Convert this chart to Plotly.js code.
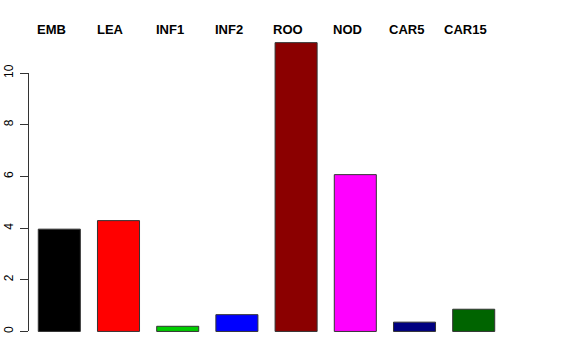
<!DOCTYPE html>
<html>
<head>
<meta charset="utf-8">
<script src="https://cdn.plot.ly/plotly-3.0.1.min.js"></script>
<style>html,body{margin:0;padding:0;background:#fff;}#chart{width:576px;height:360px;}</style>
</head>
<body>
<div id="chart"></div>
<script>
var categories = ["EMB", "LEA", "INF1", "INF2", "ROO", "NOD", "CAR5", "CAR15"];
var values = [3.96, 4.29, 0.20, 0.65, 11.18, 6.07, 0.36, 0.86];
var barColors = ["#000000", "#FF0000", "#00CD00", "#0000FF", "#8B0000", "#FF00FF", "#000080", "#006400"];
var yTicks = [0, 2, 4, 6, 8, 10];

var idx = categories.map(function (c, i) { return i; });

var bars = {
  type: "bar",
  x: idx,
  y: values,
  width: 0.71,
  marker: { color: barColors, line: { color: "#333333", width: 1 } },
  hoverinfo: "skip",
  showlegend: false
};

// empty trace to carry the R-style y axis that spans only 0..10
var axisCarrier = {
  type: "scatter", x: [], y: [], xaxis: "x2", yaxis: "y2",
  showlegend: false, hoverinfo: "skip"
};

var yMin = -0.447, yMax = 11.63;
var span = yMax - yMin;
var d0 = (0 - yMin) / span, d1 = (10 - yMin) / span;

var annotations = categories.map(function (c, i) {
  return {
    x: i, xref: "x", y: 1.005, yref: "paper",
    text: "<b>" + c + "</b>", showarrow: false,
    xanchor: "center", yanchor: "middle", xshift: -8,
    font: { family: "Liberation Sans, Arial, sans-serif", size: 13, color: "#000" }
  };
});

var layout = {
  width: 576, height: 360,
  margin: { l: 0, r: 0, t: 31, b: 17, pad: 0 },
  paper_bgcolor: "#fff", plot_bgcolor: "rgba(0,0,0,0)",
  xaxis: { range: [-1.0017, 8.728], visible: false, fixedrange: true },
  yaxis: { range: [yMin, yMax], visible: false, fixedrange: true },
  xaxis2: { domain: [29.3 / 576, 30.3 / 576], anchor: "y2", visible: false, range: [0, 1] },
  yaxis2: {
    domain: [d0, d1], anchor: "x2", range: [0, 10],
    tickvals: yTicks, ticktext: yTicks.map(String),
    ticks: "outside", ticklen: 8, tickwidth: 1, tickcolor: "#333",
    showline: true, linecolor: "#333", linewidth: 1,
    showgrid: false, zeroline: false, tickangle: -90,
    ticklabelstandoff: 3,
    tickfont: { family: "Liberation Sans, Arial, sans-serif", size: 12, color: "#000" }
  },
  annotations: annotations,
  showlegend: false
};

Plotly.newPlot("chart", [bars, axisCarrier], layout, { staticPlot: true, displayModeBar: false });
</script>
</body>
</html>
